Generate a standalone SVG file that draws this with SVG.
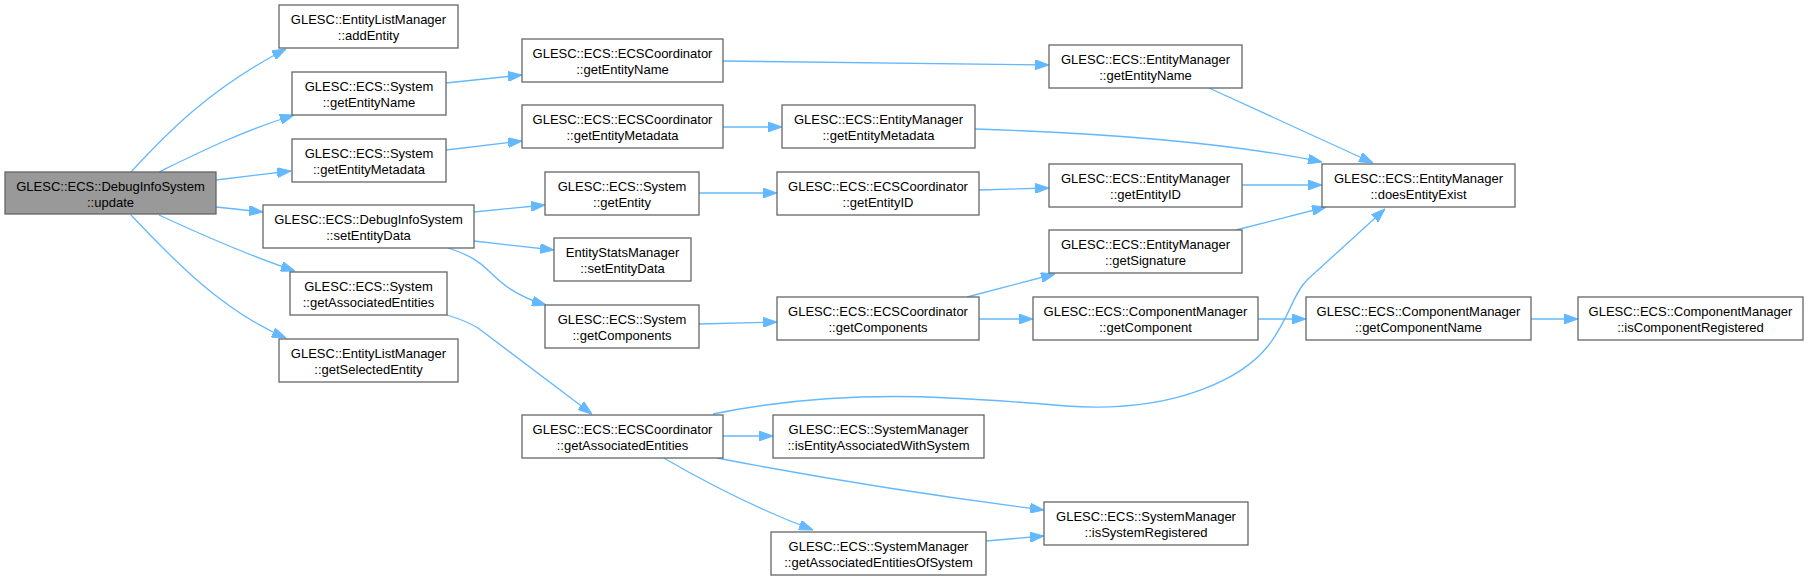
<svg xmlns="http://www.w3.org/2000/svg" width="1808" height="580" viewBox="0 0 1808 580">
<style>
.n rect{fill:#ffffff;stroke:#666666;stroke-width:1.3}
.n.root rect{fill:#999999}
.n text{font-family:"Liberation Sans",Arial,sans-serif;font-size:13px;fill:#000000;text-anchor:middle}
.e path{fill:none;stroke:#63b8ff;stroke-width:1.3;marker-end:url(#ah)}
</style>
<defs>
<marker id="ah" viewBox="0 0 14 10" refX="14" refY="5" markerWidth="14" markerHeight="10" orient="auto" markerUnits="userSpaceOnUse">
<path d="M0,0 L14,5 L0,10 z" fill="#63b8ff" stroke="#63b8ff" stroke-width="1"/>
</marker>
</defs>
<rect width="1808" height="580" fill="#ffffff"/>
<g id="edges" class="e">
<path d="M131,172 C165,135 210,88 286,49"/>
<path d="M159,172 C200,152 240,132 294,115"/>
<path d="M216,180 L291,171"/>
<path d="M216,207 L263,212"/>
<path d="M159,215 C200,234 250,256 295,271"/>
<path d="M131,215 C170,256 220,310 286,338"/>
<path d="M446,83 L522,75"/>
<path d="M446,150 L522,141"/>
<path d="M474,212 L545,205"/>
<path d="M474,241 L554,250"/>
<path d="M448,248 C470,255 480,262 490,272 C500,282 515,296 546,305"/>
<path d="M447,315 C460,319 468,322 478,328 L592,414"/>
<path d="M723,61 C850,62 950,63 1049,65"/>
<path d="M723,127 L782,127"/>
<path d="M975,129 C1100,133 1230,143 1322,162"/>
<path d="M699,193 L777,193"/>
<path d="M979,190 L1049,188"/>
<path d="M1242,185 L1322,185"/>
<path d="M1209,88 L1373,163"/>
<path d="M1236,230 L1326,207"/>
<path d="M699,324 L777,322"/>
<path d="M967,297 L1055,274"/>
<path d="M979,319 L1033,319"/>
<path d="M1258,319 L1306,319"/>
<path d="M1530,319 L1578,319"/>
<path d="M713,414 C840,388 950,396 1066,406 C1180,414 1245,375 1268,346 C1290,318 1292,295 1307,280 L1385,209"/>
<path d="M723,436 L773,436"/>
<path d="M717,458 C820,478 950,498 1044,510"/>
<path d="M662,457 C710,485 760,510 813,530"/>
<path d="M986,541 L1044,536"/>
</g>
<g id="n0" class="n root"><rect x="5" y="172" width="211" height="42"/><text x="110.5" y="190.7">GLESC::ECS::DebugInfoSystem</text><text x="110.5" y="206.7">::update</text></g>
<g id="n1" class="n"><rect x="279" y="5" width="179" height="43"/><text x="368.5" y="23.7">GLESC::EntityListManager</text><text x="368.5" y="39.7">::addEntity</text></g>
<g id="n2" class="n"><rect x="292" y="72" width="154" height="43"/><text x="369" y="90.7">GLESC::ECS::System</text><text x="369" y="106.7">::getEntityName</text></g>
<g id="n3" class="n"><rect x="292" y="139" width="154" height="43"/><text x="369" y="157.7">GLESC::ECS::System</text><text x="369" y="173.7">::getEntityMetadata</text></g>
<g id="n4" class="n"><rect x="263" y="205" width="211" height="43"/><text x="368.5" y="223.7">GLESC::ECS::DebugInfoSystem</text><text x="368.5" y="239.7">::setEntityData</text></g>
<g id="n5" class="n"><rect x="290" y="272" width="157" height="43"/><text x="368.5" y="290.7">GLESC::ECS::System</text><text x="368.5" y="306.7">::getAssociatedEntities</text></g>
<g id="n6" class="n"><rect x="279" y="339" width="179" height="43"/><text x="368.5" y="357.7">GLESC::EntityListManager</text><text x="368.5" y="373.7">::getSelectedEntity</text></g>
<g id="n7" class="n"><rect x="522" y="39" width="201" height="43"/><text x="622.5" y="57.7">GLESC::ECS::ECSCoordinator</text><text x="622.5" y="73.7">::getEntityName</text></g>
<g id="n8" class="n"><rect x="522" y="105" width="201" height="43"/><text x="622.5" y="123.7">GLESC::ECS::ECSCoordinator</text><text x="622.5" y="139.7">::getEntityMetadata</text></g>
<g id="n9" class="n"><rect x="545" y="172" width="154" height="43"/><text x="622" y="190.7">GLESC::ECS::System</text><text x="622" y="206.7">::getEntity</text></g>
<g id="n10" class="n"><rect x="554" y="238" width="137" height="43"/><text x="622.5" y="256.7">EntityStatsManager</text><text x="622.5" y="272.7">::setEntityData</text></g>
<g id="n11" class="n"><rect x="545" y="305" width="154" height="43"/><text x="622" y="323.7">GLESC::ECS::System</text><text x="622" y="339.7">::getComponents</text></g>
<g id="n12" class="n"><rect x="522" y="415" width="201" height="43"/><text x="622.5" y="433.7">GLESC::ECS::ECSCoordinator</text><text x="622.5" y="449.7">::getAssociatedEntities</text></g>
<g id="n13" class="n"><rect x="782" y="105" width="193" height="43"/><text x="878.5" y="123.7">GLESC::ECS::EntityManager</text><text x="878.5" y="139.7">::getEntityMetadata</text></g>
<g id="n14" class="n"><rect x="777" y="172" width="202" height="43"/><text x="878" y="190.7">GLESC::ECS::ECSCoordinator</text><text x="878" y="206.7">::getEntityID</text></g>
<g id="n15" class="n"><rect x="777" y="297" width="202" height="43"/><text x="878" y="315.7">GLESC::ECS::ECSCoordinator</text><text x="878" y="331.7">::getComponents</text></g>
<g id="n16" class="n"><rect x="773" y="415" width="211" height="43"/><text x="878.5" y="433.7">GLESC::ECS::SystemManager</text><text x="878.5" y="449.7">::isEntityAssociatedWithSystem</text></g>
<g id="n17" class="n"><rect x="771" y="532" width="215" height="43"/><text x="878.5" y="550.7">GLESC::ECS::SystemManager</text><text x="878.5" y="566.7">::getAssociatedEntitiesOfSystem</text></g>
<g id="n18" class="n"><rect x="1049" y="45" width="193" height="43"/><text x="1145.5" y="63.7">GLESC::ECS::EntityManager</text><text x="1145.5" y="79.7">::getEntityName</text></g>
<g id="n19" class="n"><rect x="1049" y="164" width="193" height="43"/><text x="1145.5" y="182.7">GLESC::ECS::EntityManager</text><text x="1145.5" y="198.7">::getEntityID</text></g>
<g id="n20" class="n"><rect x="1049" y="230" width="193" height="43"/><text x="1145.5" y="248.7">GLESC::ECS::EntityManager</text><text x="1145.5" y="264.7">::getSignature</text></g>
<g id="n21" class="n"><rect x="1033" y="297" width="225" height="43"/><text x="1145.5" y="315.7">GLESC::ECS::ComponentManager</text><text x="1145.5" y="331.7">::getComponent</text></g>
<g id="n22" class="n"><rect x="1044" y="502" width="204" height="43"/><text x="1146" y="520.7">GLESC::ECS::SystemManager</text><text x="1146" y="536.7">::isSystemRegistered</text></g>
<g id="n23" class="n"><rect x="1322" y="164" width="193" height="43"/><text x="1418.5" y="182.7">GLESC::ECS::EntityManager</text><text x="1418.5" y="198.7">::doesEntityExist</text></g>
<g id="n24" class="n"><rect x="1306" y="297" width="225" height="43"/><text x="1418.5" y="315.7">GLESC::ECS::ComponentManager</text><text x="1418.5" y="331.7">::getComponentName</text></g>
<g id="n25" class="n"><rect x="1578" y="297" width="225" height="43"/><text x="1690.5" y="315.7">GLESC::ECS::ComponentManager</text><text x="1690.5" y="331.7">::isComponentRegistered</text></g>
</svg>
